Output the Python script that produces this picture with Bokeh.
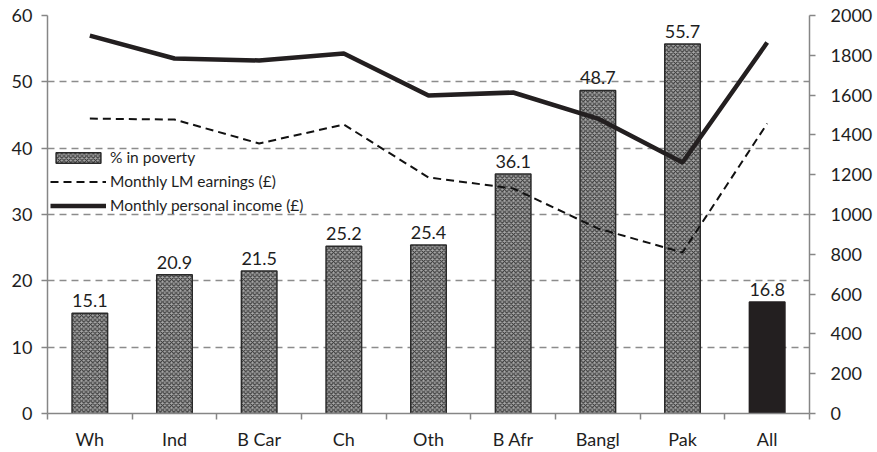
from bokeh.plotting import figure
from bokeh.models import Range1d, LinearAxis, FixedTicker, Legend, LegendItem
from bokeh.embed import file_html
from bokeh.resources import INLINE
from bokeh.core.properties import value

categories = ["Wh", "Ind", "B Car", "Ch", "Oth", "B Afr", "Bangl", "Pak", "All"]
poverty_pct = [15.1, 20.9, 21.5, 25.2, 25.4, 36.1, 48.7, 55.7, 16.8]
lm_earnings = [1482, 1477, 1357, 1452, 1186, 1131, 930, 809, 1457]
personal_income = [1899, 1784, 1774, 1809, 1598, 1613, 1482, 1261, 1864]
left_ticks = [0, 10, 20, 30, 40, 50, 60]
right_ticks = [0, 200, 400, 600, 800, 1000, 1200, 1400, 1600, 1800, 2000]

FONT = "Lato"
AXIS_GRAY = "#868686"
TEXT = "#1e1e1e"

n = len(categories)
pos = list(range(1, n + 1))
bounds = [p_ + 0.5 for p_ in range(0, n + 1)]

p = figure(width=877, height=452, output_backend="svg", toolbar_location=None,
           x_range=Range1d(0.5, n + 0.5), y_range=Range1d(left_ticks[0], left_ticks[-1]),
           min_border_left=47, min_border_right=68, min_border_top=15, min_border_bottom=39)
p.outline_line_color = None
p.background_fill_color = "white"
p.extra_y_ranges = {"inc": Range1d(right_ticks[0], right_ticks[-1])}

# x axis
xa = p.xaxis[0]
xa.ticker = FixedTicker(ticks=pos, minor_ticks=bounds)
xa.major_label_overrides = {k: c for k, c in zip(pos, categories)}
xa.major_tick_line_color = None
xa.major_tick_out = 0
xa.major_tick_in = 0
xa.minor_tick_out = 6
xa.minor_tick_in = 0
xa.minor_tick_line_color = AXIS_GRAY
xa.minor_tick_line_width = 1.5
xa.axis_line_color = AXIS_GRAY
xa.axis_line_width = 1.5
xa.major_label_standoff = 8
xa.major_label_text_font = FONT
xa.major_label_text_font_size = "18px"
xa.major_label_text_color = TEXT

# left axis
ya = p.yaxis[0]
ya.ticker = FixedTicker(ticks=left_ticks)
ya.axis_line_color = AXIS_GRAY
ya.axis_line_width = 1.5
ya.major_tick_line_color = AXIS_GRAY
ya.major_tick_line_width = 1.5
ya.major_tick_out = 6
ya.major_tick_in = 0
ya.minor_tick_line_color = None
ya.major_label_standoff = 9
ya.major_label_text_font = FONT
ya.major_label_text_font_size = "18px"
ya.major_label_text_color = TEXT

# right axis
ra = LinearAxis(y_range_name="inc", ticker=FixedTicker(ticks=right_ticks))
ra.axis_line_color = AXIS_GRAY
ra.axis_line_width = 1.5
ra.major_tick_line_color = AXIS_GRAY
ra.major_tick_line_width = 1.5
ra.major_tick_out = 6
ra.major_tick_in = 0
ra.minor_tick_line_color = None
ra.major_label_standoff = 15
ra.major_label_text_font = FONT
ra.major_label_text_font_size = "18px"
ra.major_label_text_color = TEXT
p.add_layout(ra, "right")

# grid
p.xgrid.grid_line_color = None
p.ygrid.ticker = FixedTicker(ticks=left_ticks)
p.ygrid.grid_line_color = "#8c8c8c"
p.ygrid.grid_line_width = 1.5
p.ygrid.grid_line_dash = "7 5"

# bars
bars = p.vbar(x=pos[:-1], top=poverty_pct[:-1], width=0.42,
              fill_color="#a6a6a6", hatch_pattern="diagonal_cross",
              hatch_color="#333333", hatch_scale=4.5, hatch_weight=1.1,
              line_color="#2a2a2a", line_width=1.5)
p.vbar(x=pos[-1:], top=poverty_pct[-1:], width=0.42,
       fill_color="#231f20", line_color="#231f20", line_width=1.5)

# bar labels
p.text(x=pos, y=poverty_pct, text=[f"{v:.1f}" for v in poverty_pct],
       text_align="center", text_baseline="bottom", y_offset=-6,
       text_font=value(FONT), text_font_size="18px", text_color=TEXT)

# lines
l_earn = p.line(x=pos, y=lm_earnings, y_range_name="inc", line_color="#111111",
                line_width=2, line_dash="8 5")
l_inc = p.line(x=pos, y=personal_income, y_range_name="inc", line_color="#231f20",
               line_width=4.5)

legend = Legend(items=[LegendItem(label="% in poverty", renderers=[bars]),
                       LegendItem(label="Monthly LM earnings (£)", renderers=[l_earn]),
                       LegendItem(label="Monthly personal income (£)", renderers=[l_inc])],
                location=(3, 198), padding=0, margin=0, spacing=4,
                glyph_width=56, glyph_height=13, label_height=20,
                label_standoff=4, label_text_font=FONT, label_text_font_size="15.5px",
                label_text_color=TEXT, border_line_color=None, background_fill_alpha=0)
p.add_layout(legend)

open("out.html", "w").write(file_html(p, INLINE))
